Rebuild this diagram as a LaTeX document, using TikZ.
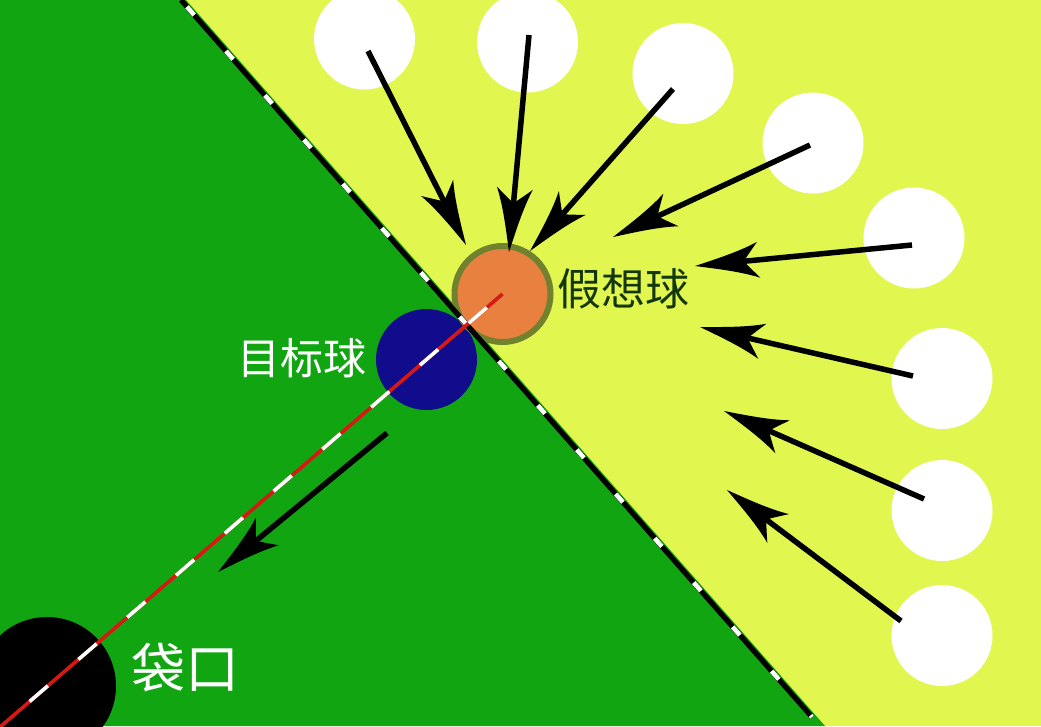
\documentclass[tikz,border=0pt]{standalone}
\usepackage{fontspec}
\newfontfamily\cjk{Noto Sans CJK SC}
\usetikzlibrary{arrows.meta}
\definecolor{felt}{RGB}{17,166,17}
\definecolor{lime}{RGB}{225,247,80}
\definecolor{navyball}{RGB}{16,12,140}
\definecolor{ghostfill}{RGB}{232,128,64}
\definecolor{ghostedge}{RGB}{112,130,46}
\definecolor{labeldark}{RGB}{20,55,10}
\definecolor{aimred}{RGB}{215,25,20}
\pgfdeclarearrow{
  name = Barb,
  setup code = {
    \pgfarrowssettipend{0pt}
    \pgfarrowssetbackend{-64pt}
    \pgfarrowssetlineend{-44pt}
    \pgfarrowshullpoint{0pt}{0pt}
    \pgfarrowsupperhullpoint{-64pt}{18pt}
  },
  drawing code = {
    \pgfpathmoveto{\pgfpoint{0pt}{0pt}}
    \pgfpathcurveto{\pgfpoint{-22pt}{5pt}}{\pgfpoint{-45pt}{10pt}}{\pgfpoint{-64pt}{18pt}}
    \pgfpathcurveto{\pgfpoint{-58pt}{11pt}}{\pgfpoint{-53pt}{5pt}}{\pgfpoint{-49pt}{0pt}}
    \pgfpathcurveto{\pgfpoint{-53pt}{-5pt}}{\pgfpoint{-58pt}{-11pt}}{\pgfpoint{-64pt}{-18pt}}
    \pgfpathcurveto{\pgfpoint{-45pt}{-10pt}}{\pgfpoint{-22pt}{-5pt}}{\pgfpoint{0pt}{0pt}}
    \pgfpathclose
    \pgfusepathqfill
  }
}
\tikzset{
  cue/.style={circle, fill=white, inner sep=0pt, minimum size=101pt},
  shot/.style={line width=5.5pt, black, -{Barb}},
  cjklabel/.style={inner sep=0pt}
}
\begin{document}
\begin{tikzpicture}[x=1pt,y=-1pt]
\useasboundingbox (0,0) rectangle (1041,726);
\clip (0,0) rectangle (1041,726);
% table halves
\fill[lime] (0,0) rectangle (1041,726);
\fill[felt] (0,0) -- (186,0) -- (825,726) -- (0,726) -- cycle;
% cue ball positions
\node[cue] (w1) at (364.5,39) {};
\node[cue] (w2) at (527.5,42) {};
\node[cue] (w3) at (683,73.5) {};
\node[cue] (w4) at (813,143) {};
\node[cue] (w5) at (914,238) {};
\node[cue] (w6) at (942,378.5) {};
\node[cue] (w7) at (942,510.5) {};
\node[cue] (w8) at (942,635.5) {};
% pocket, object ball, ghost ball
\node[circle, fill=black, inner sep=0pt, minimum size=138pt] (pocket) at (47,686) {};
\node[circle, fill=navyball, inner sep=0pt, minimum size=101pt] (obj) at (426.5,359.5) {};
\node[circle, fill=ghostfill, draw=ghostedge, line width=6pt, inner sep=0pt, minimum size=96pt] (ghost) at (502.5,294) {};
% dividing line
\coordinate (dA) at (181,0);
\coordinate (dB) at (812,717);
\draw[line width=5.2pt, black] (dA) -- (dB);
\draw[line width=4.6pt, white, dash pattern=on 11pt off 48pt, dash phase=50pt] (dA) -- (dB);
% aim line
\coordinate (aimEnd) at (-30,752.9);
\draw[aimred, line width=3.6pt] (ghost.center) -- (aimEnd);
\draw[white, line width=3.6pt, dash pattern=on 24pt off 40.4pt, dash phase=43.8pt] (ghost.center) -- (aimEnd);
% shot arrows
\coordinate (s1) at (368,51);  \coordinate (t1) at (466,245);
\coordinate (s2) at (529,35);  \coordinate (t2) at (509,252);
\coordinate (s3) at (673,89);  \coordinate (t3) at (530,251);
\coordinate (s4) at (810,145); \coordinate (t4) at (613,237);
\coordinate (s5) at (912,245); \coordinate (t5) at (695,266);
\coordinate (s6) at (913,376); \coordinate (t6) at (700,327);
\coordinate (s7) at (924,499); \coordinate (t7) at (724,411);
\coordinate (s8) at (901,621); \coordinate (t8) at (727,490);
\coordinate (s9) at (387,433); \coordinate (t9) at (218,572);
\foreach \i in {1,...,9} { \draw[shot] (s\i) -- (t\i); }
% labels
\node[cjklabel, text=labeldark, font=\cjk\fontsize{44pt}{48pt}\selectfont] (lg) at (623.5,289) {假想球};
\node[cjklabel, text=white, font=\cjk\fontsize{43pt}{46pt}\selectfont] (lo) at (302,358.5) {目标球};
\node[cjklabel, text=white, font=\cjk\fontsize{54pt}{58pt}\selectfont] (lp) at (185,667.5) {袋口};
\end{tikzpicture}
\end{document}
